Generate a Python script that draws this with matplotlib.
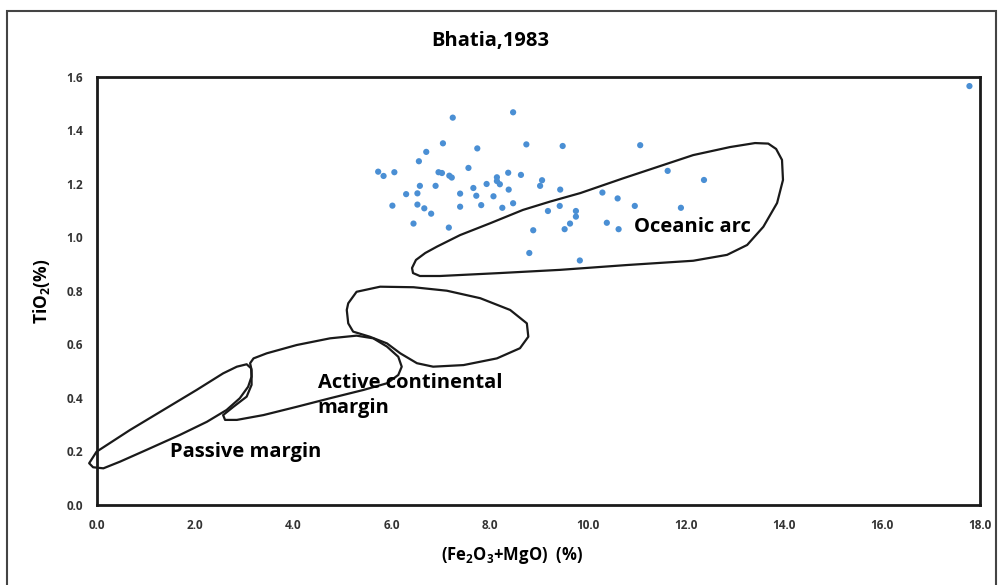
import matplotlib
matplotlib.use("Agg")
import matplotlib.pyplot as plt
from matplotlib.patches import Polygon, Rectangle

plt.rcParams["font.family"] = ["Open Sans", "DejaVu Sans"]
plt.rcParams["font.weight"] = "bold"
plt.rcParams["mathtext.fontset"] = "custom"
plt.rcParams["mathtext.bf"] = "Open Sans:bold"
plt.rcParams["mathtext.rm"] = "Open Sans:bold"
plt.rcParams["mathtext.default"] = "bf"

# Sample data: (Fe2O3+MgO) % and TiO2 %
fe_mgo = [5.73, 5.84, 6.06, 6.02, 6.30, 6.45, 6.53, 6.58, 6.53, 6.67,
          6.81, 6.56, 6.71, 6.90, 6.96, 7.03, 7.05, 7.17, 7.18, 7.23,
          7.25, 7.40, 7.40, 7.57, 7.67, 7.73, 7.75, 7.83, 7.94, 8.08,
          8.15, 8.15, 8.21, 8.38, 8.39, 8.26, 8.48, 8.48, 8.64, 8.75,
          9.07, 9.03, 9.44, 9.49, 9.43, 9.19, 8.89, 8.81, 9.53, 9.64,
          9.76, 9.76, 10.30, 10.61, 10.96, 11.90, 11.63, 12.37, 11.07, 10.39,
          10.63, 9.84, 17.78]
tio2 = [1.246, 1.230, 1.244, 1.119, 1.162, 1.052, 1.165, 1.193, 1.123, 1.109,
        1.089, 1.285, 1.320, 1.193, 1.244, 1.241, 1.352, 1.037, 1.231, 1.224,
        1.448, 1.164, 1.115, 1.260, 1.185, 1.156, 1.333, 1.121, 1.200, 1.154,
        1.225, 1.211, 1.199, 1.242, 1.179, 1.111, 1.128, 1.468, 1.234, 1.348,
        1.214, 1.193, 1.179, 1.342, 1.118, 1.099, 1.027, 0.942, 1.031, 1.052,
        1.099, 1.078, 1.168, 1.146, 1.118, 1.111, 1.249, 1.215, 1.345, 1.055,
        1.031, 0.914, 1.566]

# Bhatia (1983) field outlines
oceanic_x = [6.42, 6.50, 6.69, 6.93, 7.40, 8.01, 8.68, 9.23, 9.85, 10.72,
             12.15, 12.90, 13.41, 13.68, 13.84, 13.96, 13.98, 13.86, 13.58, 13.25,
             12.84, 12.15, 10.80, 9.44, 8.21, 6.99, 6.58, 6.44]
oceanic_y = [0.886, 0.916, 0.942, 0.966, 1.009, 1.053, 1.103, 1.134, 1.166, 1.221,
             1.308, 1.338, 1.353, 1.351, 1.331, 1.290, 1.215, 1.129, 1.040, 0.972,
             0.935, 0.913, 0.897, 0.879, 0.867, 0.856, 0.856, 0.867]

cont_arc_x = [5.12, 5.29, 5.77, 6.45, 7.13, 7.81, 8.42, 8.76, 8.79, 8.62,
              8.15, 7.47, 6.85, 6.52, 6.18, 5.91, 5.56, 5.22, 5.12, 5.09]
cont_arc_y = [0.754, 0.797, 0.816, 0.814, 0.801, 0.773, 0.729, 0.679, 0.629, 0.586,
              0.548, 0.523, 0.517, 0.530, 0.567, 0.604, 0.629, 0.648, 0.679, 0.729]

active_x = [3.19, 3.46, 4.07, 4.75, 5.29, 5.63, 5.91, 6.14, 6.21, 6.14,
            5.91, 5.43, 4.75, 4.07, 3.39, 2.85, 2.61, 2.57, 2.78, 3.05,
            3.15, 3.15, 3.12]
active_y = [0.548, 0.567, 0.598, 0.623, 0.633, 0.623, 0.592, 0.554, 0.517, 0.486,
            0.455, 0.430, 0.399, 0.367, 0.336, 0.318, 0.318, 0.336, 0.367, 0.405,
            0.449, 0.505, 0.530]

passive_x = [-0.16, -0.01, 0.67, 1.35, 2.03, 2.57, 2.85, 3.05, 3.14, 3.15,
             3.08, 2.91, 2.64, 2.24, 1.69, 1.01, 0.47, 0.13, -0.08]
passive_y = [0.156, 0.199, 0.280, 0.355, 0.430, 0.492, 0.517, 0.526, 0.511, 0.480,
             0.442, 0.399, 0.355, 0.311, 0.262, 0.206, 0.162, 0.137, 0.141]

x_ticks = [0, 2, 4, 6, 8, 10, 12, 14, 16, 18]
y_ticks = [0.0, 0.2, 0.4, 0.6, 0.8, 1.0, 1.2, 1.4, 1.6]

fig = plt.figure(figsize=(9.98, 5.85), dpi=100)
ax = fig.add_axes([0.0972, 0.1368, 0.885, 0.7316])

ax.scatter(fe_mgo, tio2, s=20, color="#4a8fd4", edgecolors="none", zorder=3, clip_on=False)

for xs, ys in [(oceanic_x, oceanic_y), (cont_arc_x, cont_arc_y),
               (active_x, active_y), (passive_x, passive_y)]:
    poly = Polygon(list(zip(xs, ys)), closed=True, fill=False, edgecolor="#1a1a1a",
                   linewidth=1.6, joinstyle="round", clip_on=False, zorder=2)
    ax.add_patch(poly)

ax.text(12.13, 1.04, "Oceanic arc", fontsize=14.5, fontweight="bold", ha="center", va="center")
ax.text(4.5, 0.41, "Active continental\nmargin", fontsize=14.5, fontweight="bold",
        ha="left", va="center", linespacing=1.35)
ax.text(1.49, 0.198, "Passive margin", fontsize=14.5, fontweight="bold", ha="left", va="center")

ax.set_xlim(0, 18)
ax.set_ylim(0, 1.6)
ax.set_xticks(x_ticks)
ax.set_xticklabels([f"{v:.1f}" for v in x_ticks])
ax.set_yticks(y_ticks)
ax.set_yticklabels([f"{v:.1f}" for v in y_ticks])
ax.tick_params(length=0, labelsize=8.5, pad=10)
for lab in ax.get_xticklabels() + ax.get_yticklabels():
    lab.set_fontweight("bold")
    lab.set_color("#333333")
for sp in ax.spines.values():
    sp.set_linewidth(2)
    sp.set_color("#1a1a1a")

fig.text(490 / 998, 1 - 41 / 585, "Bhatia,1983", fontsize=14.5, fontweight="bold",
         ha="center", va="center")
fig.text(512 / 998, 1 - 555 / 585, "(Fe$_2$O$_3$+MgO)  (%)", fontsize=12, fontweight="bold",
         ha="center", va="center")
ax.set_ylabel("TiO$_2$(%)", fontsize=12.5, fontweight="bold", labelpad=10)

# outer chart border
fig.patches.append(Rectangle((7 / 998, -0.02), 989 / 998, 1.02 - 11 / 585,
                             transform=fig.transFigure, fill=False,
                             edgecolor="#444444", linewidth=1.5))

fig.savefig("out.png", dpi=100)
